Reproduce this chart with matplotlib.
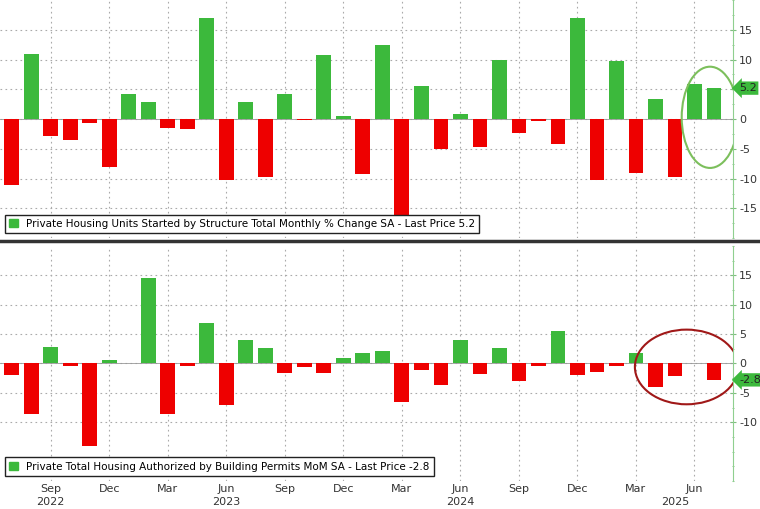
import matplotlib
matplotlib.use("Agg")
import matplotlib.pyplot as plt
from matplotlib.patches import Ellipse
import numpy as np

months = ["Jul","Aug","Sep","Oct","Nov","Dec"] + ["Jan","Feb","Mar","Apr","May","Jun","Jul","Aug","Sep","Oct","Nov","Dec"]*2 + ["Jan","Feb","Mar","Apr","May","Jun","Jul"]
tick_months = ["Sep","Dec","Mar","Jun"]
year_labels = {"2022": 2, "2023": 11, "2024": 23, "2025": 34}

starts = [-11.0, 11.0, -2.8, -3.5, -0.7, -8.1, 4.2, 2.9, -1.5, -1.6, 17.0, -10.3,
          2.8, -9.8, 4.2, -0.2, 10.8, 0.5, -9.2, 12.5, -17.0, 5.5, -5.0, 0.8,
          -4.7, 10.0, -2.4, -0.3, -4.2, 16.9, -10.2, 9.8, -9.0, 3.3, -9.7, 5.9, 5.2]
permits = [-2.0, -8.6, 2.8, -0.4, -14.0, 0.6, 0.1, 14.6, -8.6, -0.5, 6.9, -7.1,
           4.0, 2.6, -1.6, -0.6, -1.7, 1.0, 1.7, 2.1, -6.5, -1.2, -3.7, 3.9,
           -1.8, 2.7, -3.0, -0.4, 5.6, -1.9, -1.4, -0.4, 1.8, -4.0, -2.1, 0.0, -2.8]

GREEN = "#3cb93c"
RED = "#ee0000"
x = np.arange(len(starts))
tick_idx = [i for i, m in enumerate(months) if m in tick_months]

fig = plt.figure(figsize=(7.6, 5.09), dpi=100)
ax1 = fig.add_axes([0.0, 0.532, 0.965, 0.468])
ax2 = fig.add_axes([0.0, 0.055, 0.965, 0.462])

def style(ax, vals, ylim, ticks, label, last):
    cols = [GREEN if v >= 0 else RED for v in vals]
    ax.bar(x, vals, width=0.75, color=cols, zorder=3)
    ax.set_xlim(-0.6, len(vals) - 0.0)
    ax.set_ylim(*ylim)
    ax.yaxis.tick_right()
    ax.set_yticks(ticks)
    ax.set_yticklabels([str(t) for t in ticks], fontsize=8, color="#333333")
    ax.set_yticks(np.arange(-20, 21, 2.5), minor=True)
    ax.tick_params(axis="y", which="both", direction="inout", color="#7fbf7f", length=4, pad=2)
    ax.tick_params(axis="y", which="minor", length=2)
    ax.set_xticks(tick_idx)
    ax.grid(True, axis="both", which="major", linestyle=(0, (1.5, 3)), color="#aaaaaa", linewidth=0.8, zorder=0)
    for s in ["top", "left", "bottom"]:
        ax.spines[s].set_visible(False)
    ax.spines["right"].set_color("#8fcf8f")
    ax.axhline(0, color="#999999", linewidth=0.6, zorder=2)
    leg_handle = plt.Rectangle((0, 0), 1, 1, color=GREEN)
    ax.legend([leg_handle], [label], loc="lower left", bbox_to_anchor=(0.0, 0.0),
              fontsize=7.5, frameon=True, fancybox=False, edgecolor="#222222",
              handlelength=0.8, handleheight=0.8, borderpad=0.4, framealpha=1)
    ax.annotate(f"{last}", xy=(1.0, last), xycoords=("axes fraction", "data"),
                xytext=(4, 0), textcoords="offset points", fontsize=8, color="#222222",
                va="center", ha="left", zorder=10,
                bbox=dict(boxstyle="larrow,pad=0.15", fc=GREEN, ec="none"), annotation_clip=False)

style(ax1, starts, (-18.5, 19.8), [-15, -10, -5, 0, 5, 10, 15],
      "Private Housing Units Started by Structure Total Monthly % Change SA - Last Price 5.2", starts[-1])
style(ax2, permits, (-14.3, 16.9), [-10, -5, 0, 5, 10, 15],
      "Private Total Housing Authorized by Building Permits MoM SA - Last Price -2.8", permits[-1])

ax1.tick_params(axis="x", length=0, labelbottom=False)
ax2.set_xticklabels([months[i] for i in tick_idx], fontsize=8, color="#333333")
ax2.tick_params(axis="x", length=0, pad=2)
for yr, i in year_labels.items():
    ax2.text(i, -0.068, yr, transform=ax2.get_xaxis_transform(), ha="center", va="top",
             fontsize=8, color="#333333")

n = len(starts)
ax1.add_patch(Ellipse((n - 1.2, 0.3), 2.9, 17.0, fill=False, ec="#7cbf5c", lw=1.5, zorder=4))
ax2.add_patch(Ellipse((n - 2.4, -0.6), 5.3, 12.7, fill=False, ec="#a01818", lw=1.5, zorder=4))

fig.add_artist(plt.Line2D([0, 1], [0.527, 0.527], color="#333333", lw=2.5))
fig.savefig("out.png", dpi=100)
